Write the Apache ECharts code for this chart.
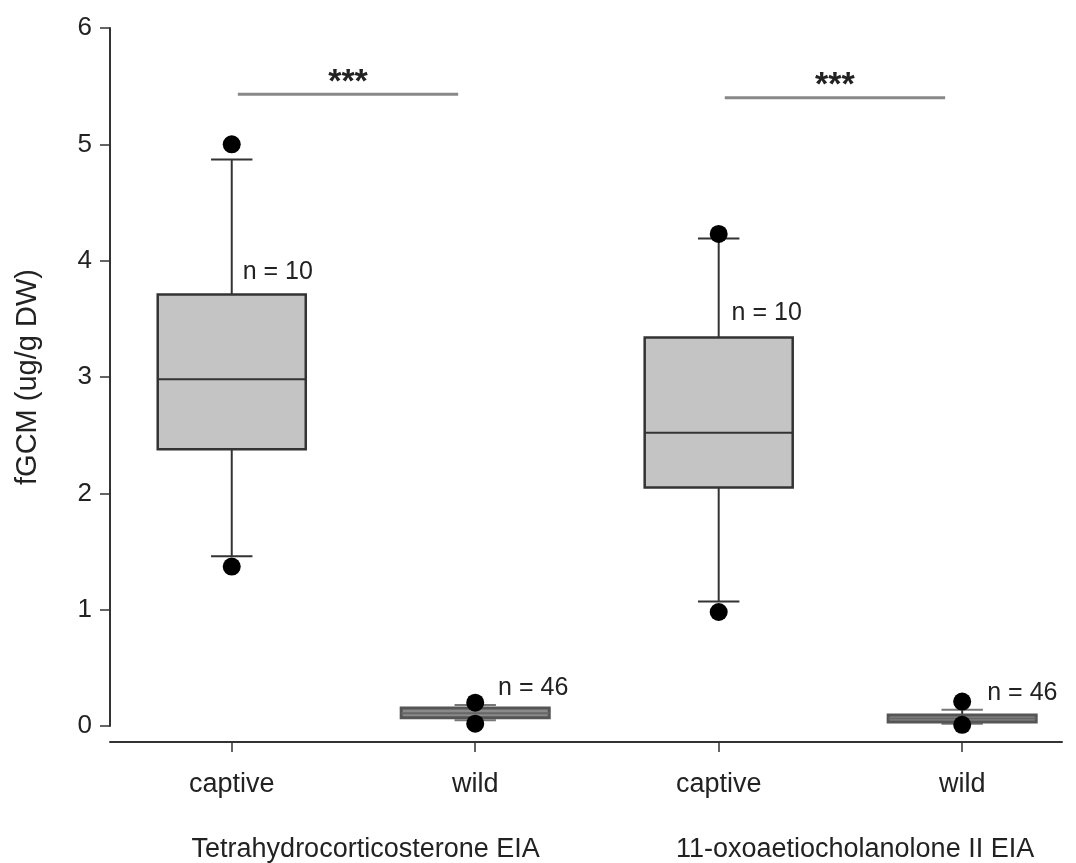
<!DOCTYPE html>
<html>
<head>
<meta charset="utf-8">
<script src="https://cdn.jsdelivr.net/npm/echarts@6/dist/echarts.min.js"></script>
<style>
  html, body { margin: 0; padding: 0; background: #fff; }
  #chart { width: 1076px; height: 863px; }
</style>
</head>
<body>
<div id="chart"></div>
<script>
// ---- data ----
const categories = ['captive', 'wild', 'captive', 'wild'];
const groupLabels = ['Tetrahydrocorticosterone EIA', '11-oxoaetiocholanolone II EIA'];
const whiskerLow  = [1.46, 0.05, 1.07, 0.02];
const q1          = [2.38, 0.07, 2.05, 0.035];
const median      = [2.98, 0.11, 2.52, 0.065];
const q3          = [3.71, 0.155, 3.34, 0.095];
const whiskerHigh = [4.87, 0.18, 4.19, 0.14];
const outlierCat  = [1, 1, 2, 2, 3, 3, 4, 4];
const outlierVal  = [5.0, 1.37, 0.20, 0.02, 4.23, 0.98, 0.21, 0.01];
const nLabels     = ['n = 10', 'n = 46', 'n = 10', 'n = 46'];
const sigLabels   = ['***', '***'];
const sigFrom     = [1, 3];
const sigTo       = [2, 4];
const sigLevel    = [5.43, 5.40];
const yTicks      = [0, 1, 2, 3, 4, 5, 6];

// ---- build ----
const boxData = categories.map((c, i) => [i + 1, whiskerLow[i], q1[i], median[i], q3[i], whiskerHigh[i]]);
const outlierData = outlierCat.map((c, i) => [c, outlierVal[i]]);
// annotation anchors (offset from the box in axis units)
const nAnchorDX = [0.045, 0.094, 0.053, 0.103];
const nAnchorY  = [3.90, 0.33, 3.55, 0.28];
const nData = nLabels.map((t, i) => [i + 1 + nAnchorDX[i], nAnchorY[i], t]);
const sigData = sigLabels.map((t, i) => [sigFrom[i], sigTo[i], sigLevel[i], t]);
const groupAnchor = [1.55, 3.56];

const FONT = '"Liberation Sans", Arial, Helvetica, sans-serif';
const TXT = '#222';
const LINE = '#333';

const chart = echarts.init(document.getElementById('chart'), null, { renderer: 'canvas' });
chart.setOption({
  animation: false,
  backgroundColor: '#fff',
  grid: { left: 110, right: 14, top: 28, bottom: 137, containLabel: false },
  xAxis: [{
    type: 'value', min: 0.5, max: 4.41, offset: 16,
    axisLine: { show: true, onZero: false, lineStyle: { color: LINE, width: 2 } },
    axisTick: { show: true, length: 10, lineStyle: { color: LINE, width: 1.5 }, customValues: [1, 2, 3, 4] },
    axisLabel: { show: true, customValues: [1, 2, 3, 4], formatter: v => categories[Math.round(v) - 1],
      fontFamily: FONT, fontSize: 27, color: TXT, margin: 29 },
    splitLine: { show: false }
  }, {
    type: 'value', min: 0.5, max: 4.41, position: 'bottom', offset: 16,
    axisLine: { show: false, onZero: false }, axisTick: { show: false }, splitLine: { show: false },
    axisLabel: { show: true, customValues: groupAnchor, formatter: v => groupLabels[v < 2.5 ? 0 : 1],
      fontFamily: FONT, fontSize: 27, color: TXT, margin: 94 }
  }],
  yAxis: {
    type: 'value', min: 0, max: 6, interval: 1,
    name: 'fGCM (ug/g DW)', nameLocation: 'middle', nameGap: 68,
    nameTextStyle: { fontFamily: FONT, fontSize: 29, color: TXT },
    axisLine: { show: true, onZero: false, lineStyle: { color: LINE, width: 2 } },
    axisTick: { show: true, length: 10, lineStyle: { color: LINE, width: 1.5 } },
    axisLabel: { fontFamily: FONT, fontSize: 26, color: TXT, margin: 18,
      formatter: v => String(yTicks[yTicks.indexOf(v)]) },
    splitLine: { show: false }
  },
  series: [{
    type: 'custom', xAxisIndex: 0, clip: false, z: 2,
    data: boxData,
    renderItem: function (params, api) {
      const x = api.value(0);
      const pLo = api.coord([x, api.value(1)]);
      const pQ1 = api.coord([x, api.value(2)]);
      const pMed = api.coord([x, api.value(3)]);
      const pQ3 = api.coord([x, api.value(4)]);
      const pHi = api.coord([x, api.value(5)]);
      const bw = api.size([0.608, 0])[0];
      const cw = api.size([0.17, 0])[0];
      const ls = { stroke: LINE, lineWidth: 2 };
      const small = (pQ1[1] - pQ3[1]) < 20;
      return { type: 'group', children: [
        { type: 'line', shape: { x1: pLo[0], y1: pLo[1], x2: pQ1[0], y2: pQ1[1] }, style: ls },
        { type: 'line', shape: { x1: pQ3[0], y1: pQ3[1], x2: pHi[0], y2: pHi[1] }, style: ls },
        { type: 'line', shape: { x1: pLo[0] - cw / 2, y1: pLo[1], x2: pLo[0] + cw / 2, y2: pLo[1] }, style: { stroke: small ? '#777' : LINE, lineWidth: 2 } },
        { type: 'line', shape: { x1: pHi[0] - cw / 2, y1: pHi[1], x2: pHi[0] + cw / 2, y2: pHi[1] }, style: { stroke: small ? '#777' : LINE, lineWidth: 2 } },
        { type: 'rect', shape: { x: pQ3[0] - bw / 2, y: pQ3[1], width: bw, height: pQ1[1] - pQ3[1] },
          style: { fill: small ? '#8a8a8a' : '#c4c4c4', stroke: small ? '#555' : LINE, lineWidth: small ? 3 : 2.5 } },
        { type: 'line', shape: { x1: pMed[0] - bw / 2, y1: pMed[1], x2: pMed[0] + bw / 2, y2: pMed[1] }, style: { stroke: small ? '#666' : LINE, lineWidth: 2 } }
      ]};
    }
  }, {
    type: 'scatter', xAxisIndex: 0, clip: false, z: 3,
    symbol: 'circle', symbolSize: 18,
    itemStyle: { color: '#000', opacity: 1 },
    data: outlierData
  }, {
    type: 'custom', xAxisIndex: 0, clip: false, z: 4,
    data: nData,
    renderItem: function (params, api) {
      const p = api.coord([api.value(0), api.value(1)]);
      return { type: 'text', x: p[0], y: p[1],
        style: { text: nData[params.dataIndex][2], font: '25px ' + FONT, fill: TXT,
          textAlign: 'left', textVerticalAlign: 'middle' } };
    }
  }, {
    type: 'custom', xAxisIndex: 0, clip: false, z: 4,
    data: sigData,
    renderItem: function (params, api) {
      const y = api.value(2);
      const a = api.coord([api.value(0) + 0.025, y]);
      const b = api.coord([api.value(1) - 0.07, y]);
      const mid = (a[0] + b[0]) / 2;
      return { type: 'group', children: [
        { type: 'line', shape: { x1: a[0], y1: a[1], x2: b[0], y2: b[1] },
          style: { stroke: '#888', lineWidth: 3 } },
        { type: 'text', x: mid, y: a[1] + 5,
          style: { text: sigData[params.dataIndex][3], font: 'bold 34px ' + FONT, fill: '#222',
            textAlign: 'center', textVerticalAlign: 'bottom' } }
      ]};
    }
  }]
});
</script>
</body>
</html>
